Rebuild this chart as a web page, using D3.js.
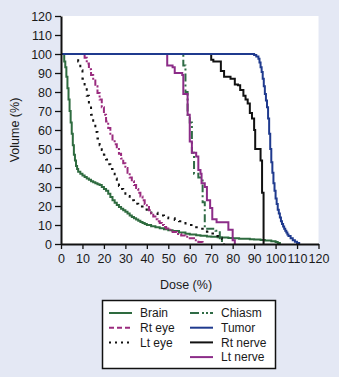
<!DOCTYPE html>
<html><head><meta charset="utf-8">
<script src="https://cdn.jsdelivr.net/npm/d3@7"></script>
<style>
html,body{margin:0;padding:0;background:#e4e8f4;}
svg{display:block;font-family:"Liberation Sans",Arial,sans-serif;}
</style></head>
<body>
<svg id="c" width="339" height="377"></svg>
<script>
const xTicks = [0,10,20,30,40,50,60,70,80,90,100,110,120];
const yTicks = [0,10,20,30,40,50,60,70,80,90,100,110,120];

const brain = [[0,100],[1,100],[1.5,96],[2,93],[2.5,88],[3,82],[3.5,76],[4,70],[4.5,64],[5,58],[5.5,52],[6,47],[6.5,44],[7,41],[7.5,39.5],[8,38],[9,37],[10,36],[11,35.2],[12,34.5],[13,33.8],[14,33],[15,32.5],[16,32],[17,31.5],[18,31],[19,30],[20,29],[21,28],[22,26.5],[23,24.8],[24,23],[25,21.7],[26,20.5],[27,19.5],[28,18.5],[29,17.7],[30,17],[31,16],[32,15],[33,14.2],[34,13.5],[35,12.9],[36,12.3],[37,11.6],[38,11],[39,10.5],[40,10],[42,9.4],[44,8.8],[46,8.3],[48,7.8],[50,7.3],[52,6.8],[55,6],[58,5.4],[60,5],[63,4.6],[65,4.3],[68,4],[70,3.8],[73,3.5],[75,3.4],[78,3.1],[80,3.0],[83,2.8],[85,2.7],[88,2.5],[90,2.4],[93,2.1],[95,1.8],[98,1.4],[100,1.0],[101,0.5],[102,0]];
const rtEye = [[0,100],[10,100],[11,98],[12,95],[13,92],[14,89],[15,86],[16,83],[17,79.5],[18,76],[19,72],[20,68],[21,64.5],[22,61],[23,58],[24,55],[25,52.5],[26,50],[27,47.5],[28,45],[29,42.5],[30,40],[31,37.5],[32,35],[33,33],[34,31],[35,29],[36,27],[37,25],[38,23],[39,21],[40,19.5],[41,17.8],[42,16],[43,14.5],[44,13],[45,12],[46,11],[47,10],[48,9],[49,8.2],[50,7.5],[52,6.3],[54,5.3],[56,4.5],[58,3.8],[60,3],[62,2],[64,1],[66,0]];
const ltEye = [[0,100],[7,100],[8,96],[9,91.5],[10,87],[11,82.5],[12,78],[13,73],[14,68],[15,63.5],[16,59],[17,55.5],[18,52],[19,49.5],[20,47],[21,44.5],[22,42],[23,39.5],[24,37],[25,34.5],[26,32],[27,30.5],[28,29],[29,27.7],[30,26.5],[31,25.2],[32,24],[33,23],[34,22],[35,21.2],[36,20.5],[37,19.7],[38,19],[39,18.2],[40,17.5],[42,16.5],[45,15],[48,14],[50,13.5],[53,12.6],[55,12],[58,10.8],[60,10],[63,8.8],[65,8],[68,6.5],[70,5.5],[72,4.2],[74,3],[75,1.5],[76,0]];
const chiasm = [[0,100],[56,100],[57,94],[58,80],[59,68],[60,64],[61,48],[62,37],[64,35],[66,22],[67,8],[72,7],[74,2],[75,0]];
const tumor = [[0,100],[89,100],[90,99.5],[91,98.7],[92,97.5],[92.5,95.5],[93,93],[93.5,90.5],[94,87],[94.5,83],[95,79],[95.5,75.5],[96,72],[96.5,66],[97,58],[97.5,50],[98,43],[98.5,37.5],[99,32],[99.5,28],[100,24],[100.5,21],[101,18],[101.5,16],[102,14],[102.5,12],[103,10.5],[103.5,9.2],[104,8],[104.5,7],[105,6],[105.5,5],[106,4.2],[107,3],[108,2],[109,1.2],[110,0.5],[111,0]];
const rtNerve = [[0,100],[69,100],[70,97],[71,96],[74.5,91],[76,88],[79,87],[81,84],[82.5,83.5],[83.5,81],[85,78],[86,76],[87,74],[88,69],[89,66],[90,60],[90.5,50],[93,44],[93.7,27],[94.4,0]];
const ltNerve = [[0,100],[49,100],[49.5,94],[52,93],[53,90],[56.5,89],[57,79],[59,68],[60,54],[61,48],[63,46],[64,39],[65,37],[65.5,32],[67,30],[68,23],[69.5,19],[70.5,13],[72.5,11.5],[78,7.5],[80,2],[81,0]];

const seriesNames = ["Brain","Rt eye","Lt eye","Chiasm","Tumor","Rt nerve","Lt nerve"];
const seriesData = [brain, rtEye, ltEye, chiasm, tumor, rtNerve, ltNerve];

const styles = {
  "Brain":   {color:"#2e6b3f", dash:null},
  "Rt eye":  {color:"#9a2b7e", dash:"6,2,2,2", legDash:"5,3"},
  "Lt eye":  {color:"#111111", dash:"2.5,5", legDash:"2,4"},
  "Chiasm":  {color:"#2f6b45", dash:"8,3,2,3", legDash:"9,3,2,2,2,2"},
  "Tumor":   {color:"#1f3a8e", dash:null},
  "Rt nerve":{color:"#111111", dash:null},
  "Lt nerve":{color:"#8c2c88", dash:null}
};

const svg = d3.select("#c");
const L=61, R=318.5, T=16, B=244;
const x = d3.scaleLinear().domain([0,120]).range([L,R]);
const y = d3.scaleLinear().domain([0,120]).range([B,T]);

svg.append("rect").attr("x",L).attr("y",T).attr("width",R-L).attr("height",B-T).attr("fill","#ffffff");

const line = d3.line().x(d=>x(d[0])).y(d=>y(d[1])).curve(d3.curveStepAfter);
const order = ["Brain","Lt eye","Rt eye","Chiasm","Lt nerve","Rt nerve","Tumor"];
order.forEach(n=>{
  const i = seriesNames.indexOf(n);
  const s = styles[n];
  svg.append("path").datum(seriesData[i]).attr("d",line)
    .attr("fill","none").attr("stroke",s.color).attr("stroke-width",2)
    .attr("stroke-dasharray",s.dash);
});

const xAxis = svg.append("g").attr("transform",`translate(0,${B})`)
  .call(d3.axisBottom(x).tickValues(xTicks).tickSize(5).tickSizeOuter(0));
const yAxis = svg.append("g").attr("transform",`translate(${L},0)`)
  .call(d3.axisLeft(y).tickValues(yTicks).tickSize(6).tickSizeOuter(0));
[xAxis,yAxis].forEach(a=>{
  a.select(".domain").attr("stroke","#111").attr("stroke-width",2);
  a.selectAll(".tick line").attr("stroke","#111").attr("stroke-width",1.3);
  a.selectAll("text").attr("fill","#1a1a1a").style("font-size","12.5px").style("font-family","'Liberation Sans',Arial,sans-serif");
});
xAxis.selectAll("text").attr("dy","0").attr("y",19);
yAxis.selectAll("text").attr("x",-9).attr("dy","0.35em");

svg.append("text").attr("x",186).attr("y",289).attr("text-anchor","middle")
  .attr("fill","#1a1a1a").style("font-size","12.5px").text("Dose (%)");
svg.append("text").attr("transform","translate(19,130) rotate(-90)").attr("text-anchor","middle")
  .attr("fill","#1a1a1a").style("font-size","12.5px").text("Volume (%)");

const lg = svg.append("g");
lg.append("rect").attr("x",102.5).attr("y",300.5).attr("width",173).attr("height",68)
  .attr("fill","#ffffff").attr("stroke","#111").attr("stroke-width",1.5);
const legItems = [
  {n:"Brain",col:0,row:0},{n:"Rt eye",col:0,row:1},{n:"Lt eye",col:0,row:2},
  {n:"Chiasm",col:1,row:0},{n:"Tumor",col:1,row:1},{n:"Rt nerve",col:1,row:2},{n:"Lt nerve",col:1,row:3}
];
legItems.forEach(it=>{
  const s = styles[it.n];
  const x0 = it.col===0 ? 109 : 190;
  const yy = 313 + it.row*14.7;
  lg.append("line").attr("x1",x0).attr("x2",x0+23).attr("y1",yy).attr("y2",yy)
    .attr("stroke",s.color).attr("stroke-width",2).attr("stroke-dasharray",s.legDash||s.dash);
  lg.append("text").attr("x",x0+31).attr("y",yy).attr("dy","0.36em")
    .attr("fill","#1a1a1a").style("font-size","12px").text(it.n);
});
</script>
</body></html>
